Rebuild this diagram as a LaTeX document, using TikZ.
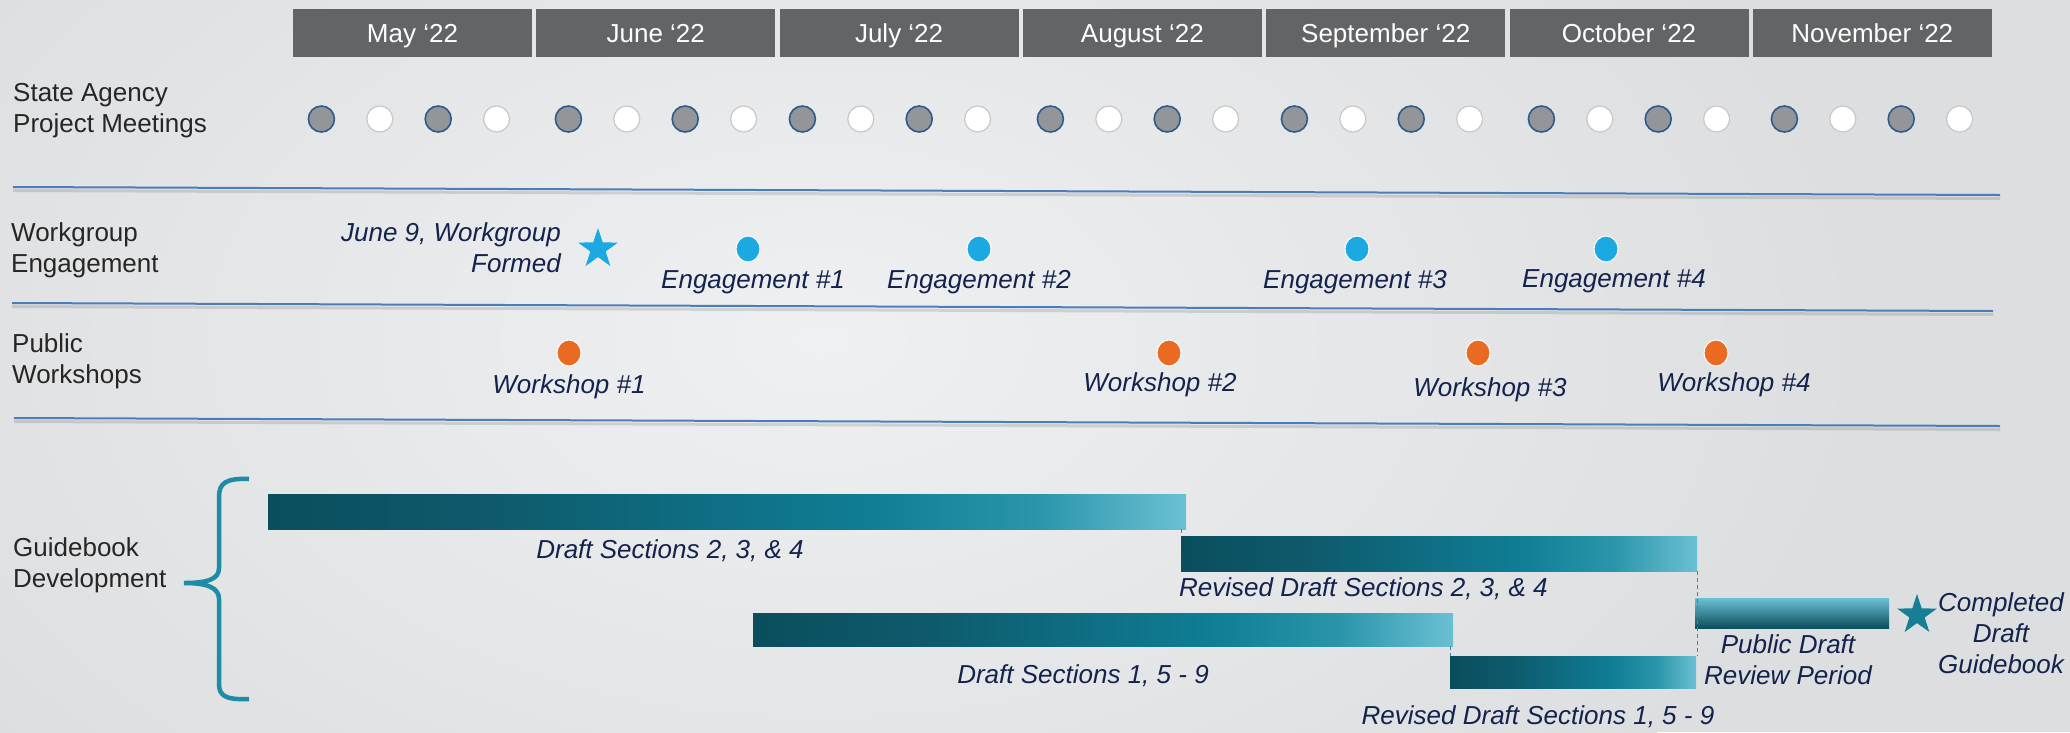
\documentclass[tikz,border=0pt]{standalone}
\usepackage{fontspec}
\setmainfont{Liberation Sans}
\usetikzlibrary{shapes.geometric}
\definecolor{bgA}{HTML}{DDDEE0}
\definecolor{bgB}{HTML}{EFF0F2}
\definecolor{monthgray}{HTML}{636466}
\definecolor{rowtext}{HTML}{262626}
\definecolor{navy}{HTML}{14234D}
\definecolor{dotgray}{HTML}{939598}
\definecolor{dotrim}{HTML}{2C5B8C}
\definecolor{whiterim}{HTML}{C8C8C8}
\definecolor{engblue}{HTML}{1CA8E0}
\definecolor{worange}{HTML}{EA6A22}
\definecolor{sepblue}{HTML}{4A7EBB}
\definecolor{braceteal}{HTML}{1E8CA4}
\definecolor{starteal}{HTML}{167F95}
\definecolor{tA}{HTML}{0A4E5D}
\definecolor{tB}{HTML}{0E5B6D}
\definecolor{tC}{HTML}{0F7E96}
\definecolor{tD}{HTML}{2B96AB}
\definecolor{tE}{HTML}{6BC0D3}
\pgfdeclarehorizontalshading{tealbar}{100bp}{color(0bp)=(tA); color(25bp)=(tA); color(38bp)=(tB); color(58bp)=(tC); color(67bp)=(tD); color(75bp)=(tE); color(100bp)=(tE)}
\tikzset{
  monthbox/.style={rectangle, fill=monthgray, text=white, font=\fontsize{26}{30}\selectfont, minimum width=239, minimum height=48, inner sep=0, text height=18.7, text depth=0},
  rowlabel/.style={anchor=west, align=left, text=rowtext, font=\fontsize{26}{31}\selectfont, inner sep=0},
  meetfull/.style={circle, fill=dotgray, draw=dotrim, line width=1.6, minimum size=26, inner sep=0},
  meetopen/.style={circle, fill=white, draw=whiterim, line width=1.2, minimum size=26, inner sep=0},
  engdot/.style={ellipse, fill=engblue, draw=white, line width=1, minimum width=24, minimum height=26, inner sep=0},
  wsdot/.style={ellipse, fill=worange, draw=white, line width=1, minimum width=24, minimum height=26, inner sep=0},
  evlabel/.style={text=navy, font=\fontsize{26}{31}\selectfont\itshape, inner sep=0},
  sepline/.style={draw=sepblue, line width=2},
  sepshadow/.style={draw=black, line width=3, opacity=0.12},
  gbar/.style={rectangle, shade, shading=tealbar, anchor=north west, inner sep=0},
  linkdash/.style={draw=sepblue, line width=1, dash pattern=on 4 off 3},
  bigstar/.style={star, star points=5, star point ratio=2.6, inner sep=0, draw=none},
}
\begin{document}
\begin{tikzpicture}[x=1pt,y=-1pt]
\useasboundingbox (0,0) rectangle (2070,732);
% background
\fill[bgA] (0,0) rectangle (2070,732);
\begin{scope}
\clip (0,0) rectangle (2070,732);
\shade[inner color=bgB, outer color=bgA] (820,340) ellipse (1050 and 650);
\end{scope}

% month headers
\foreach \c/\t/\n in {412.5/May ‘22/may, 655.8/June ‘22/jun, 899.1/July ‘22/jul, 1142.4/August ‘22/aug, 1385.7/September ‘22/sep, 1629/October ‘22/oct, 1872.3/November ‘22/nov}
  \node[monthbox] (\n) at (\c,33) {\t};

% row labels
\node[rowlabel] (lblstate) at (13,111) {State Agency\\Project Meetings};
\node[rowlabel] (lblwork) at (11,250) {Workgroup\\Engagement};
\node[rowlabel] (lblpub) at (12,361) {Public\\Workshops};
\node[rowlabel] (lblguide) at (13,565) {Guidebook\\Development};

% project meeting dots
\foreach \c [count=\m] in {409,656,890,1138,1382,1629,1872} {
  \node[meetfull] (mt-\m-1) at (\c-87.6,119) {};
  \node[meetopen] (mt-\m-2) at (\c-29.2,119) {};
  \node[meetfull] (mt-\m-3) at (\c+29.2,119) {};
  \node[meetopen] (mt-\m-4) at (\c+87.6,119) {};
}

% separator lines
\coordinate (s1a) at (13,187); \coordinate (s1b) at (2000,195);
\coordinate (s2a) at (12,303); \coordinate (s2b) at (1993,311);
\coordinate (s3a) at (14,418); \coordinate (s3b) at (2000,426);
\foreach \a/\b in {s1a/s1b, s2a/s2b, s3a/s3b} {
  \draw[sepshadow] ([yshift=-3.5]\a) -- ([yshift=-3.5]\b);
  \draw[sepline] (\a) -- (\b);
}

% workgroup engagement
\node[bigstar, fill=engblue, minimum size=42] (wstar) at (598,249) {};
\node[evlabel, align=right, anchor=east] (wformed) at (561,248) {June 9, Workgroup\\Formed};
\node[engdot] (e1) at (748,249) {};
\node[engdot] (e2) at (979,249) {};
\node[engdot] (e3) at (1357,249) {};
\node[engdot] (e4) at (1606,249) {};
\node[evlabel] (e1l) at (753,282) {Engagement \#1};
\node[evlabel] (e2l) at (979,282) {Engagement \#2};
\node[evlabel] (e3l) at (1355,282) {Engagement \#3};
\node[evlabel] (e4l) at (1614,281) {Engagement \#4};

% public workshops
\node[wsdot] (w1) at (569,353) {};
\node[wsdot] (w2) at (1169,353) {};
\node[wsdot] (w3) at (1478,353) {};
\node[wsdot] (w4) at (1716,353) {};
\node[evlabel] (w1l) at (569,387) {Workshop \#1};
\node[evlabel] (w2l) at (1160,385) {Workshop \#2};
\node[evlabel] (w3l) at (1490,390) {Workshop \#3};
\node[evlabel] (w4l) at (1734,385) {Workshop \#4};

% brace
\draw[braceteal, line width=4.5] (249,479) .. controls (226,478) and (219,483) .. (219,497) -- (219,568) .. controls (219,579) and (208,583) .. (184,583) .. controls (208,583) and (219,588) .. (219,599) -- (219,684) .. controls (219,696) and (226,700) .. (249,699);

% gantt bars
\node[gbar, minimum width=918, minimum height=35] (b1) at (268,494) {};
\node[gbar, minimum width=516, minimum height=35] (b2) at (1181,536) {};
\node[gbar, minimum width=700, minimum height=33] (b3) at (753,613) {};
\node[gbar, minimum width=246, minimum height=32] (b4) at (1450,656) {};
\node[rectangle, anchor=north west, inner sep=0, minimum width=194, minimum height=30, top color=tE, middle color=tC, bottom color=tA] (b5) at (1695,598) {};

% dashed links
\draw[linkdash] (b1.south -| b2.north west) -- (b2.north west);
\draw[linkdash] (b2.south east) -- (b2.south east |- b4.north);
\draw[linkdash] (b3.south -| b4.north west) -- (b4.north west);

% bar labels
\node[evlabel] (b1l) at (670,551) {Draft Sections 2, 3, \& 4};
\node[evlabel, anchor=west] (b2l) at (1179,589) {Revised Draft Sections 2, 3, \& 4};
\node[evlabel] (b3l) at (1083,676) {Draft Sections 1, 5 - 9};
\node[evlabel] (b4l) at (1538,717) {Revised Draft Sections 1, 5 - 9};
\node[evlabel, align=center] (b5l) at (1788,660) {Public Draft\\Review Period};

% completion
\node[bigstar, fill=starteal, minimum size=42] (cstar) at (1917,615) {};
\node[evlabel, align=center] (cdone) at (2001,633) {Completed\\Draft\\Guidebook};
\end{tikzpicture}
\end{document}
